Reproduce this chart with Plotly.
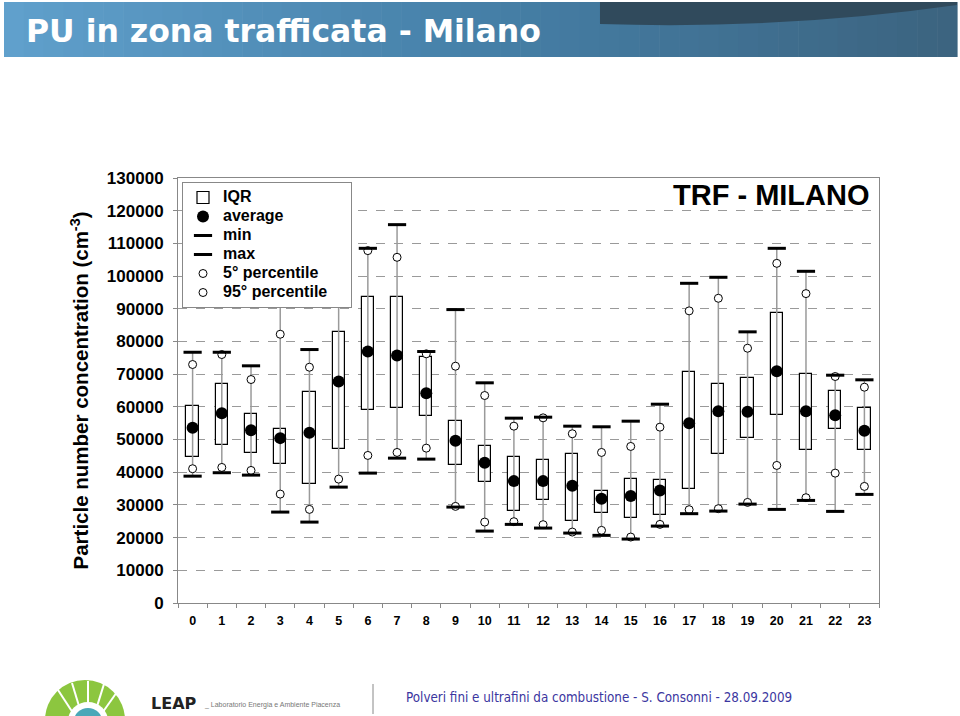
import plotly.graph_objects as go

hours = list(range(24))
tick_labels = [str(h) for h in hours]
min_vals = [38800, 39850, 39120, 27810, 24750, 35450, 39730, 44310, 44010, 29340, 22000, 24050,
            22920, 21390, 20690, 19560, 23530, 27320, 28120, 30250, 28630, 31380, 28020, 33220]
p5_vals = [41070, 41470, 40550, 33310, 28630, 37900, 45140, 46050, 47370, 29550, 24750, 24870,
           23960, 21700, 22220, 20170, 24050, 28540, 28850, 30770, 42080, 32210, 39730, 35660]
q25_vals = [44600, 48400, 45840, 42480, 36490, 47060, 59100, 59710, 57150, 42290, 36980, 28230,
            31600, 25180, 27630, 25980, 26800, 34960, 45440, 50540, 57360, 46880, 53170, 46880]
avg_vals = [53600, 58060, 52870, 50430, 52070, 67750, 76920, 75700, 64180, 49630, 42900, 37280,
            37280, 35880, 31900, 32700, 34440, 55010, 58680, 58490, 70900, 58680, 57450, 52680]
q75_vals = [60400, 66930, 57670, 53300, 64600, 82800, 93510, 93730, 75180, 55530, 47980, 44620,
            43820, 45660, 34350, 37890, 37700, 70810, 67050, 68760, 88740, 69980, 64790, 59590]
p95_vals = [72950, 76000, 68360, 82210, 72120, 101000, 107790, 105740, 76220, 72430, 63470, 54090,
            56640, 51770, 46050, 47890, 53790, 89360, 93210, 77930, 103900, 94640, 69280, 66010]
max_vals = [76700, 76700, 72550, 104000, 77530, 110000, 108490, 115730, 76920, 89750, 67350, 56540,
            56840, 54090, 53900, 55620, 60810, 97790, 99630, 82940, 108490, 101460, 69680, 68270]

FONT = "Liberation Sans, Arial, sans-serif"

# plot area in pixels
L, R, T, B = 178, 879, 178, 603


def px_x(px):
    return (px - L) / (R - L)


def px_y(py):
    return (B - py) / (B - T)


def leg(name, pad=0):
    return '<span style="font-size:16px">' + name + "\u00a0" * pad + "</span>"


fig = go.Figure()

iqr_heights = [hi - lo for hi, lo in zip(q75_vals, q25_vals)]
fig.add_trace(go.Bar(
    x=tick_labels, y=iqr_heights, base=q25_vals, width=0.42, name=leg("IQR"),
    marker=dict(color="white", line=dict(color="black", width=1.2)),
    legendrank=1,
))

wx, wy = [], []
for lbl, lo, hi in zip(tick_labels, min_vals, max_vals):
    wx += [lbl, lbl, None]
    wy += [lo, hi, None]
fig.add_trace(go.Scatter(x=wx, y=wy, mode="lines", line=dict(color="#9a9a9a", width=1.5),
                         showlegend=False, hoverinfo="skip"))

fig.add_trace(go.Scatter(
    x=tick_labels, y=p5_vals, mode="markers", name=leg("5° percentile"),
    marker=dict(symbol="circle", size=8, color="white", line=dict(color="black", width=1)),
    legendrank=5,
))
fig.add_trace(go.Scatter(
    x=tick_labels, y=p95_vals, mode="markers", name=leg("95° percentile", 4),
    marker=dict(symbol="circle", size=8, color="white", line=dict(color="black", width=1)),
    legendrank=6,
))
fig.add_trace(go.Scatter(
    x=tick_labels, y=min_vals, mode="markers", name=leg("min"),
    marker=dict(symbol="line-ew", size=13, color="black", line=dict(color="black", width=3)),
    legendrank=3,
))
fig.add_trace(go.Scatter(
    x=tick_labels, y=max_vals, mode="markers", name=leg("max"),
    marker=dict(symbol="line-ew", size=13, color="black", line=dict(color="black", width=3)),
    legendrank=4,
))
fig.add_trace(go.Scatter(
    x=tick_labels, y=avg_vals, mode="markers", name=leg("average"),
    marker=dict(symbol="circle", size=12, color="black"),
    legendrank=2,
))

shapes = []
# banner gradient
n = 48
x0, x1 = 4, 957
c_left = (96, 160, 204)
c_mid = (70, 128, 168)
c_right = (60, 100, 128)
for i in range(n):
    t = i / (n - 1)
    if t < 0.5:
        u = t / 0.5
        c = [int(c_left[k] + (c_mid[k] - c_left[k]) * u) for k in range(3)]
    else:
        u = (t - 0.5) / 0.5
        c = [int(c_mid[k] + (c_right[k] - c_mid[k]) * u) for k in range(3)]
    xa = x0 + (x1 - x0) * i / n
    xb = x0 + (x1 - x0) * (i + 1) / n + 0.6
    shapes.append(dict(type="rect", xref="paper", yref="paper",
                       x0=px_x(xa), x1=px_x(xb), y0=px_y(57), y1=px_y(2),
                       fillcolor="rgb(%d,%d,%d)" % tuple(c), line=dict(width=0), layer="below"))
# darker top-right band of banner
shapes.append(dict(type="path", xref="paper", yref="paper",
                   path="M %f,%f L %f,%f L %f,%f Q %f,%f %f,%f Z" % (
                       px_x(600), px_y(2), px_x(957), px_y(2), px_x(957), px_y(5),
                       px_x(780), px_y(30), px_x(600), px_y(24)),
                   fillcolor="rgb(48,74,92)", line=dict(width=0), layer="below"))

# footer logo (stylised)
shapes.append(dict(type="circle", xref="paper", yref="paper",
                   x0=px_x(45), x1=px_x(125), y0=px_y(760), y1=px_y(680),
                   fillcolor="#8cc63f", line=dict(width=0)))
for ang_pts in [(58, 690, 75, 716), (72, 683, 82, 716), (88, 681, 88, 716), (104, 684, 94, 716), (117, 692, 100, 716)]:
    shapes.append(dict(type="line", xref="paper", yref="paper",
                       x0=px_x(ang_pts[0]), y0=px_y(ang_pts[1]), x1=px_x(ang_pts[2]), y1=px_y(ang_pts[3]),
                       line=dict(color="white", width=2)))
shapes.append(dict(type="circle", xref="paper", yref="paper",
                   x0=px_x(68), x1=px_x(108), y0=px_y(740), y1=px_y(702),
                   fillcolor="white", line=dict(width=0)))
shapes.append(dict(type="circle", xref="paper", yref="paper",
                   x0=px_x(74), x1=px_x(102), y0=px_y(734), y1=px_y(708),
                   fillcolor="#4aa8b8", line=dict(width=0)))
# separator
shapes.append(dict(type="line", xref="paper", yref="paper",
                   x0=px_x(373), x1=px_x(373), y0=px_y(684), y1=px_y(714),
                   line=dict(color="#888888", width=1)))

annotations = [
    dict(text="PU in zona trafficata - Milano", xref="paper", yref="paper",
         x=px_x(24), y=px_y(31), xanchor="left", yanchor="middle", showarrow=False,
         font=dict(family="DejaVu Sans, Verdana, sans-serif", size=31.5, color="white", weight="bold")),
    dict(text="TRF - MILANO", xref="paper", yref="paper",
         x=px_x(872), y=px_y(195), xanchor="right", yanchor="middle", showarrow=False,
         font=dict(family=FONT, size=29, color="black", weight="bold")),
    dict(text="LEAP", xref="paper", yref="paper",
         x=px_x(149), y=px_y(703), xanchor="left", yanchor="middle", showarrow=False,
         font=dict(family="DejaVu Sans, sans-serif", size=16, color="#222222", weight="bold")),
    dict(text="_ Laboratorio Energia e Ambiente Piacenza", xref="paper", yref="paper",
         x=px_x(202), y=px_y(705), xanchor="left", yanchor="middle", showarrow=False,
         font=dict(family=FONT, size=7, color="#777777")),
    dict(text="Polveri fini e ultrafini da combustione - S. Consonni - 28.09.2009",
         xref="paper", yref="paper",
         x=px_x(404), y=px_y(697), xanchor="left", yanchor="middle", showarrow=False,
         font=dict(family="DejaVu Sans Condensed, Liberation Sans Narrow, Liberation Sans, sans-serif",
                   size=13.3, color="#3b36a0")),
]

fig.update_layout(
    width=960, height=716,
    margin=dict(l=L, r=960 - R, t=T, b=716 - B, pad=0),
    paper_bgcolor="white", plot_bgcolor="white",
    font=dict(family=FONT, color="black"),
    showlegend=True,
    legend=dict(x=px_x(182), y=px_y(182), xanchor="left", yanchor="top",
                bgcolor="white", bordercolor="#888888", borderwidth=1,
                font=dict(family=FONT, size=11, color="black", weight="bold"),
                itemwidth=30, tracegroupgap=0),
    shapes=shapes, annotations=annotations,
    bargap=0,
)

fig.update_xaxes(type="category", tickson="boundaries", ticks="outside", ticklen=4,
                 tickcolor="#888888", showline=True, linecolor="#888888", linewidth=1, mirror=True,
                 showgrid=False, range=[-0.5, 23.5], ticklabelstandoff=6,
                 tickfont=dict(family=FONT, size=12.5, color="black", weight="bold"))
fig.update_yaxes(range=[0, 130000], dtick=10000, tick0=0, tickformat="d",
                 ticks="outside", ticklen=4, tickcolor="#888888", ticklabelstandoff=6,
                 showline=True, linecolor="#888888", linewidth=1, mirror=True,
                 showgrid=True, gridcolor="#9a9a9a", griddash="dash", gridwidth=1, zeroline=False,
                 tickfont=dict(family=FONT, size=17, color="black", weight="bold"),
                 title=dict(text="Particle number concentration (cm<sup>-3</sup>)", standoff=12,
                            font=dict(family=FONT, size=20.5, color="black", weight="bold")))

fig.write_html("out.html", post_script="document.body.style.margin='0';",
               config={"displayModeBar": False})
